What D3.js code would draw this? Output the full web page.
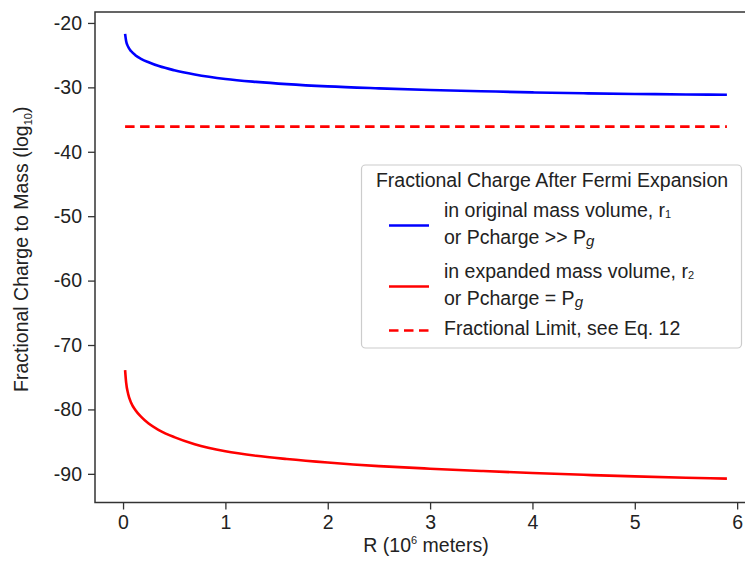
<!DOCTYPE html>
<html>
<head>
<meta charset="utf-8">
<script src="https://cdn.jsdelivr.net/npm/d3@7"></script>
<style>
  body { margin: 0; background: #fff; }
  svg { display: block; font-family: Arial, "Liberation Sans", sans-serif; }
</style>
</head>
<body>
<div id="chart"></div>
<script>
// data
const rValues = [0.02, 0.03, 0.05, 0.08, 0.12, 0.18, 0.25, 0.35, 0.5, 0.7, 1.0, 1.3, 1.6, 2.0, 2.5, 3.0, 3.5, 4.0, 4.5, 5.0, 5.5, 5.9];
const originalVolume = [-21.7, -22.8, -23.7, -24.4, -25.0, -25.6, -26.1, -26.7, -27.35, -28.0, -28.7, -29.15, -29.5, -29.85, -30.15, -30.4, -30.6, -30.78, -30.92, -31.02, -31.1, -31.15];
const expandedVolume = [-73.9, -75.8, -77.6, -79.0, -80.1, -81.2, -82.2, -83.2, -84.3, -85.4, -86.5, -87.2, -87.7, -88.25, -88.8, -89.2, -89.55, -89.87, -90.15, -90.4, -90.6, -90.75];
const fractionalLimit = -36.1;
const xTicks = [0, 1, 2, 3, 4, 5, 6];
const yTicks = [-20, -30, -40, -50, -60, -70, -80, -90];

const W = 745, H = 562;
const margin = {top: 12, right: -12, bottom: 60, left: 95};
const fontSize = 19.5;

const svg = d3.select("#chart").append("svg")
  .attr("width", W)
  .attr("height", H);

svg.append("rect").attr("width", W).attr("height", H).attr("fill", "#fff");

// x: matplotlib style 5% margins around the data
const x = d3.scaleLinear()
  .domain([-0.274, 6.194])
  .range([margin.left, W - margin.right]);

const y = d3.scaleLinear()
  .domain([-94.45, -18.3])
  .range([H - margin.bottom + 0.5, margin.top]);

const axisColor = "#333";

// X axis
const gx = svg.append("g")
  .attr("transform", `translate(0, ${y.range()[0]})`)
  .call(d3.axisBottom(x).tickValues(xTicks).tickSize(7).tickPadding(6).tickFormat(d3.format("d")));
gx.select(".domain").remove();
gx.selectAll(".tick line").attr("stroke", axisColor).attr("stroke-width", 1.3);
gx.selectAll("text").attr("font-size", fontSize).attr("fill", "#222").attr("font-family", "Arial, 'Liberation Sans', sans-serif");

// Y axis, plain hyphen for the minus sign
const gy = svg.append("g")
  .attr("transform", `translate(${margin.left}, 0)`)
  .call(d3.axisLeft(y).tickValues(yTicks).tickSize(7).tickPadding(6).tickFormat(d => String(d)));
gy.select(".domain").remove();
gy.selectAll(".tick line").attr("stroke", axisColor).attr("stroke-width", 1.3);
gy.selectAll("text").attr("font-size", fontSize).attr("fill", "#222").attr("font-family", "Arial, 'Liberation Sans', sans-serif");

// frame
svg.append("rect")
  .attr("x", x.range()[0])
  .attr("y", y.range()[1])
  .attr("width", x.range()[1] - x.range()[0])
  .attr("height", y.range()[0] - y.range()[1])
  .attr("fill", "none")
  .attr("stroke", axisColor)
  .attr("stroke-width", 1.5);

// lines
const line = d3.line()
  .x((d, i) => x(rValues[i]))
  .y(d => y(d))
  .curve(d3.curveMonotoneX);

svg.append("path")
  .datum(originalVolume)
  .attr("d", line)
  .attr("fill", "none")
  .attr("stroke", "#0000ff")
  .attr("stroke-width", 2.6);

svg.append("path")
  .datum(expandedVolume)
  .attr("d", line)
  .attr("fill", "none")
  .attr("stroke", "#ff0000")
  .attr("stroke-width", 2.6);

svg.append("line")
  .attr("x1", x(rValues[0]))
  .attr("x2", x(rValues[rValues.length - 1]))
  .attr("y1", y(fractionalLimit))
  .attr("y2", y(fractionalLimit))
  .attr("stroke", "#ff0000")
  .attr("stroke-width", 2.6)
  .attr("stroke-dasharray", "9.5,5.5");

// axis labels
svg.append("text")
  .attr("x", (x.range()[0] + x.range()[1]) / 2)
  .attr("y", 552)
  .attr("text-anchor", "middle")
  .attr("font-size", fontSize)
  .attr("fill", "#222")
  .call(t => {
    t.append("tspan").text("R (10");
    t.append("tspan").attr("font-size", 11).attr("dy", -8).text("6");
    t.append("tspan").attr("dy", 8).text(" meters)");
  });

svg.append("text")
  .attr("transform", `translate(28, ${(y.range()[0] + y.range()[1]) / 2 - 8}) rotate(-90)`)
  .attr("text-anchor", "middle")
  .attr("font-size", fontSize)
  .attr("fill", "#222")
  .call(t => {
    t.append("tspan").text("Fractional Charge to Mass (log");
    t.append("tspan").attr("font-size", 11).attr("dy", 4).text("10");
    t.append("tspan").attr("dy", -4).text(")");
  });

// legend
const legend = svg.append("g");
legend.append("rect")
  .attr("x", 361.5).attr("y", 165)
  .attr("width", 380).attr("height", 183)
  .attr("rx", 4)
  .attr("fill", "#fff")
  .attr("stroke", "#ccc")
  .attr("stroke-width", 1.2);

legend.append("text")
  .attr("x", 552).attr("y", 187)
  .attr("text-anchor", "middle")
  .attr("font-size", fontSize)
  .attr("fill", "#222")
  .text("Fractional Charge After Fermi Expansion");

const legendItems = [
  {color: "#0000ff", dash: null, lineY: 225.5, lines: [["in original mass volume, r", "1", ""], ["or Pcharge >> P", "g", "i"]], textY: [217, 244]},
  {color: "#ff0000", dash: null, lineY: 286.5, lines: [["in expanded mass volume, r", "2", ""], ["or Pcharge = P", "g", "i"]], textY: [278, 305]},
  {color: "#ff0000", dash: "9.5,5.5", lineY: 330.5, lines: [["Fractional Limit, see Eq. 12", "", ""]], textY: [335]}
];

legendItems.forEach(item => {
  legend.append("line")
    .attr("x1", 389).attr("x2", 429)
    .attr("y1", item.lineY).attr("y2", item.lineY)
    .attr("stroke", item.color)
    .attr("stroke-width", 2.6)
    .attr("stroke-dasharray", item.dash);
  item.lines.forEach((l, i) => {
    const t = legend.append("text")
      .attr("x", 444).attr("y", item.textY[i])
      .attr("font-size", fontSize)
      .attr("fill", "#222");
    t.append("tspan").text(l[0]);
    if (l[1]) {
      if (l[2] === "i") {
        t.append("tspan").attr("font-size", 15).attr("font-style", "italic").attr("dy", 2).text(l[1]);
      } else {
        t.append("tspan").attr("font-size", 11).attr("dy", 1).text(l[1]);
      }
    }
  });
});
</script>
</body>
</html>
